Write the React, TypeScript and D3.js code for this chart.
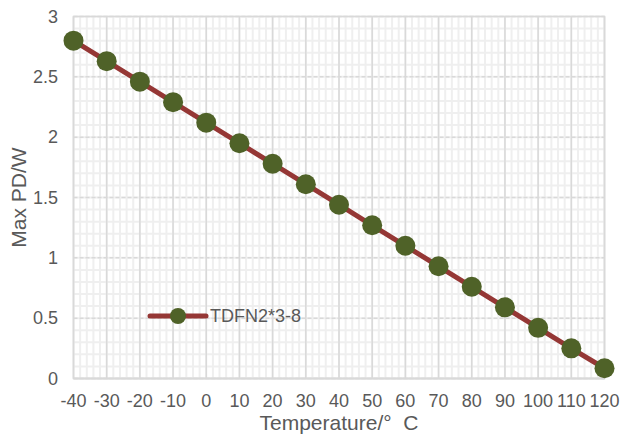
import React from "react";
import * as d3 from "d3";

const temperatures = [-40, -30, -20, -10, 0, 10, 20, 30, 40, 50, 60, 70, 80, 90, 100, 110, 120];
const maxPD = [2.8, 2.63, 2.46, 2.29, 2.12, 1.95, 1.78, 1.61, 1.44, 1.27, 1.1, 0.93, 0.76, 0.59, 0.42, 0.25, 0.085];
const yTicks = [0, 0.5, 1, 1.5, 2, 2.5, 3];
const seriesName = "TDFN2*3-8";
const xTitle = "Temperature/°  C";
const yTitle = "Max PD/W";

export default function App() {
  const W = 621, H = 434;
  const left = 73.5, right = 604.5, top = 16.5, bottom = 378.5;
  const x = d3.scaleLinear().domain([-40, 120]).range([left, right]);
  const y = d3.scaleLinear().domain([0, 3]).range([bottom, top]);
  const xMinor = d3.range(-40, 120.001, 2);
  const yMinor = d3.range(0, 3.0001, 0.1);
  const line = d3.line<number>().x((_, i) => x(temperatures[i])).y((d) => y(d));
  const font = "'Liberation Sans', Arial, sans-serif";
  const txt = "#595959";
  return (
    <svg width={W} height={H} style={{ position: "absolute", left: 0, top: 0, background: "#fff" }}>
      {xMinor.map((v, i) => (
        <line key={"xm" + i} x1={x(v)} x2={x(v)} y1={top} y2={bottom} stroke="#efefef" strokeWidth={2} />
      ))}
      {yMinor.map((v, i) => (
        <line key={"ym" + i} x1={left} x2={right} y1={y(v)} y2={y(v)} stroke="#efefef" strokeWidth={2} />
      ))}
      {temperatures.map((v, i) => (
        <line key={"xM" + i} x1={x(v)} x2={x(v)} y1={top} y2={bottom} stroke="#d9d9d9" strokeWidth={1.5} />
      ))}
      {yTicks.map((v, i) => (
        <line key={"yM" + i} x1={left} x2={right} y1={y(v)} y2={y(v)} stroke="#d9d9d9" strokeWidth={1.5} strokeDasharray="4,2" />
      ))}
      <rect x={left} y={top} width={right - left} height={bottom - top} fill="none" stroke="#d9d9d9" strokeWidth={1.5} />
      <line x1={left} x2={right} y1={bottom} y2={bottom} stroke="#d9d9d9" strokeWidth={2} />
      <path d={line(maxPD) || ""} fill="none" stroke="#953735" strokeWidth={5} strokeLinejoin="round" />
      {maxPD.map((v, i) => (
        <circle key={"p" + i} cx={x(temperatures[i])} cy={y(v)} r={10} fill="#4f6228" />
      ))}
      {yTicks.map((v, i) => (
        <text key={"yt" + i} x={58} y={y(v)} dy="0.35em" textAnchor="end" fontFamily={font} fontSize={18} fill={txt}>
          {String(v)}
        </text>
      ))}
      {temperatures.map((v, i) => (
        <text key={"xt" + i} x={x(v)} y={407} textAnchor="middle" fontFamily={font} fontSize={18} fill={txt}>
          {String(v)}
        </text>
      ))}
      <text x={339} y={430} textAnchor="middle" fontFamily={font} fontSize={21} fill={txt} style={{ whiteSpace: "pre" }}>{xTitle}</text>
      <text transform={`translate(26,${(top + bottom) / 2}) rotate(-90)`} textAnchor="middle" fontFamily={font} fontSize={21} fill={txt}>{yTitle}</text>
      <g>
        <line x1={150} x2={206} y1={316} y2={316} stroke="#953735" strokeWidth={5} strokeLinecap="round" />
        <circle cx={178} cy={316} r={8} fill="#4f6228" />
        <text x={210} y={316} dy="0.35em" fontFamily={font} fontSize={18} fill={txt}>{seriesName}</text>
      </g>
    </svg>
  );
}
